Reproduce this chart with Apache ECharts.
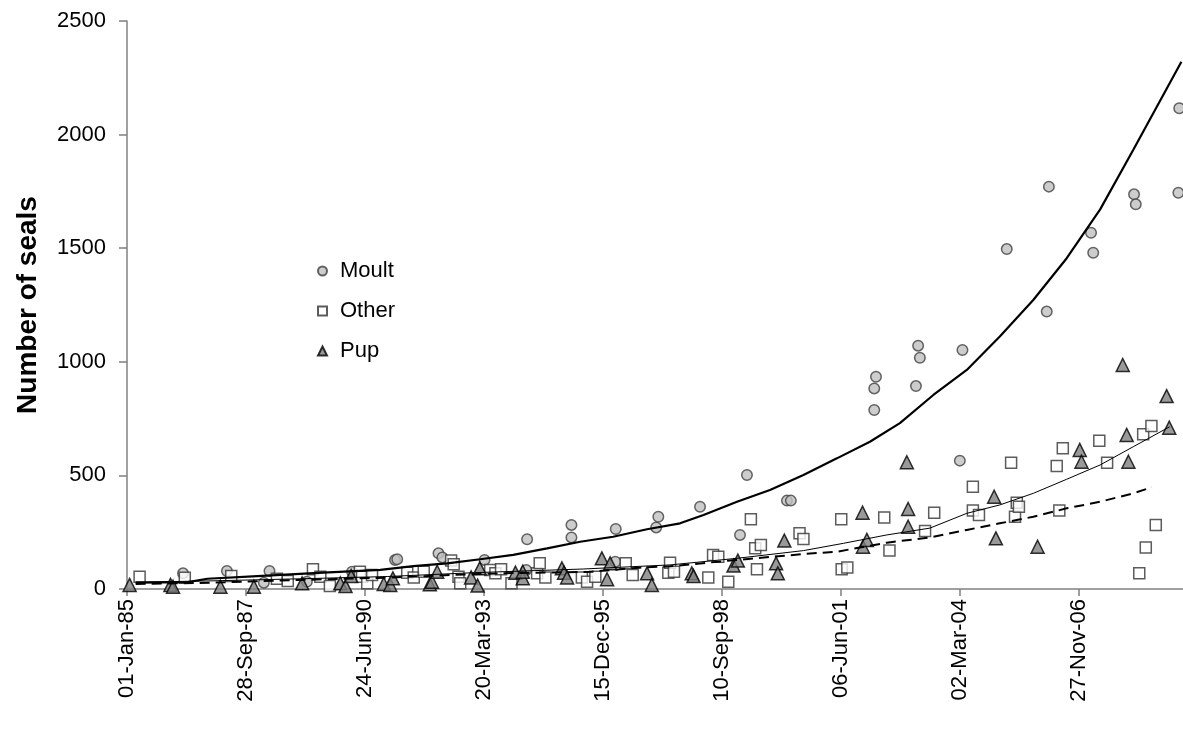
<!DOCTYPE html>
<html>
<head>
<meta charset="utf-8">
<title>Seal counts</title>
<script src="https://cdn.jsdelivr.net/npm/echarts@6/dist/echarts.min.js"></script>
<style>
  html, body { margin: 0; padding: 0; background: #ffffff; }
  #chart { width: 1183px; height: 729px; }
</style>
</head>
<body>
<div id="chart"></div>
<script>
// Survey dates are decimal years; counts are numbers of seals.
const moultDates = [1986.29, 1987.30, 1988.15, 1988.28, 1989.14, 1990.18, 1991.17, 1991.22, 1992.17, 1992.26,
  1993.23, 1994.19, 1994.21, 1995.23, 1995.23, 1996.24, 1996.25, 1997.18, 1997.23, 1998.19,
  1999.11, 1999.27, 2000.19, 2000.28, 2002.20, 2002.20, 2002.24, 2003.16, 2003.21, 2003.25,
  2004.17, 2004.23, 2005.25, 2006.17, 2006.22, 2007.19, 2007.24, 2008.18, 2008.22, 2009.20, 2009.22];
const moultCounts = [69, 79, 28, 79, 32, 76, 128, 131, 157, 139,
  128, 84, 219, 227, 282, 120, 264, 271, 318, 362,
  238, 502, 389, 389, 788, 883, 934, 893, 1071, 1018,
  565, 1052, 1496, 1221, 1771, 1568, 1480, 1737, 1693, 1744, 2116];

const otherDates = [1985.29, 1986.33, 1987.40, 1988.45, 1988.70, 1989.28, 1989.45, 1989.67, 1990.36, 1990.41,
  1990.53, 1990.64, 1991.45, 1991.60, 1991.83, 1992.46, 1992.52, 1992.63, 1992.67, 1993.36,
  1993.48, 1993.61, 1993.85, 1994.44, 1994.50, 1994.63, 1995.47, 1995.59, 1995.78, 1996.48,
  1996.64, 1997.46, 1997.50, 1997.59, 1998.38, 1998.49, 1998.61, 1998.84, 1999.36, 1999.46,
  1999.50, 1999.59, 2000.48, 2000.57, 2001.44, 2001.45, 2001.58, 2002.43, 2002.55, 2003.37,
  2003.58, 2004.47, 2004.47, 2004.61, 2005.35, 2005.44, 2005.48, 2005.53, 2006.40, 2006.46,
  2006.54, 2007.38, 2007.56, 2008.30, 2008.39, 2008.45, 2008.58, 2008.68];
const otherCounts = [54, 50, 57, 45, 35, 87, 54, 13, 76, 54,
  25, 62, 72, 51, 76, 125, 109, 54, 25, 84,
  69, 87, 25, 69, 113, 51, 51, 32, 54, 113,
  62, 72, 116, 76, 51, 150, 142, 32, 307, 179,
  87, 194, 245, 220, 307, 87, 95, 315, 169, 255,
  336, 450, 345, 326, 556, 318, 380, 362, 541, 345,
  619, 653, 556, 69, 681, 183, 717, 282];

const pupDates = [1985.06, 1986.00, 1986.06, 1987.15, 1987.92, 1989.03, 1989.91, 1990.03, 1990.16, 1990.91,
  1991.06, 1991.12, 1991.97, 1992.02, 1992.14, 1992.92, 1993.07, 1993.12, 1993.94, 1994.11,
  1994.11, 1995.01, 1995.06, 1995.13, 1995.93, 1996.05, 1996.12, 1996.97, 1997.08, 1998.00,
  1998.04, 1998.96, 1999.06, 1999.94, 1999.98, 2000.13, 2001.93, 2001.94, 2002.03, 2002.95,
  2002.98, 2002.98, 2004.96, 2005.00, 2005.96, 2006.93, 2006.97, 2007.92, 2008.01, 2008.05,
  2008.93, 2008.99];
const pupCounts = [18, 18, 10, 10, 10, 25, 25, 13, 57, 22,
  18, 47, 21, 32, 76, 51, 15, 91, 72, 47,
  76, 91, 72, 51, 135, 43, 113, 69, 18, 69,
  57, 103, 125, 113, 69, 213, 336, 186, 216, 558,
  352, 274, 406, 223, 186, 612, 560, 986, 678, 560,
  849, 710];

// Fitted trends
const moultTrendDates = [1985.20, 1986.40, 1986.85, 1988.00, 1989.52, 1990.83, 1991.59, 1992.37, 1993.13, 1993.89,
  1994.67, 1995.43, 1996.19, 1996.97, 1997.73, 1998.27, 1999.04, 1999.80, 2000.57, 2001.34,
  2002.10, 2002.79, 2003.56, 2004.33, 2005.09, 2005.86, 2006.63, 2007.40, 2008.16, 2009.27];
const moultTrendCounts = [28, 30, 45, 57, 72, 84, 101, 113, 131, 150,
  179, 208, 230, 263, 289, 326, 384, 436, 502, 575,
  648, 730, 854, 964, 1111, 1272, 1456, 1671, 1932, 2321];

const otherTrendDates = [1985.20, 1987.00, 1989.00, 1991.00, 1993.00, 1995.50, 1997.50, 1999.04, 2000.57, 2001.49,
  2002.49, 2003.48, 2004.33, 2005.09, 2005.86, 2006.63, 2007.40, 2008.16, 2009.00];
const otherTrendCounts = [30, 36, 45, 55, 72, 88, 106, 135, 169, 201,
  238, 268, 333, 370, 421, 483, 546, 626, 714];

const pupTrendDates = [1985.20, 1987.00, 1989.00, 1991.00, 1992.50, 1993.60, 1995.70, 1996.80, 1997.50, 1999.04,
  2000.57, 2001.34, 2002.49, 2003.48, 2004.33, 2005.09, 2005.86, 2006.63, 2007.40, 2008.16, 2008.59];
const pupTrendCounts = [22, 28, 40, 50, 62, 69, 76, 94, 100, 128,
  154, 164, 204, 227, 260, 289, 318, 355, 384, 421, 448];

// Date axis labels, one every 1000 days from 01-Jan-85
const xTickLabels = ['01-Jan-85', '28-Sep-87', '24-Jun-90', '20-Mar-93', '15-Dec-95',
  '10-Sep-98', '06-Jun-01', '02-Mar-04', '27-Nov-06'];
const yTicks = [0, 500, 1000, 1500, 2000, 2500];

// x is measured in days since 01-Jan-85
const DAYS_PER_YEAR = 365.25;
const toDays = y => (y - 1985) * DAYS_PER_YEAR;
const pairs = (xs, ys) => xs.map((x, i) => [toDays(x), ys[i]]);

const FONT = "'Liberation Sans', Arial, sans-serif";
const AXIS_GREY = '#808080';

const chart = echarts.init(document.getElementById('chart'), null, { renderer: 'canvas' });

chart.setOption({
  animation: false,
  backgroundColor: '#ffffff',
  grid: { left: 127, right: 0, top: 21, bottom: 140, outerBoundsMode: 'none' },
  legend: {
    orient: 'vertical',
    left: 312,
    top: 254,
    itemWidth: 9,
    itemHeight: 9,
    itemGap: 16,
    textStyle: { fontFamily: FONT, fontSize: 22, color: '#000', lineHeight: 24, padding: [0, 0, 0, 8] },
    data: [
      { name: 'Moult', icon: 'circle' },
      { name: 'Other', icon: 'rect' },
      { name: 'Pup', icon: 'triangle' }
    ]
  },
  xAxis: {
    type: 'value',
    min: 0,
    max: 8878,
    interval: 1000,
    axisLine: { lineStyle: { color: AXIS_GREY, width: 1.5 } },
    axisTick: { show: true, length: 7, lineStyle: { color: AXIS_GREY, width: 1.5 } },
    splitLine: { show: false },
    axisLabel: {
      rotate: 90,
      margin: 10,
      fontFamily: FONT,
      fontSize: 22,
      color: '#000',
      showMaxLabel: false,
      formatter: v => (v % 1000 === 0 ? (xTickLabels[v / 1000] || '') : '')
    }
  },
  yAxis: {
    type: 'value',
    min: yTicks[0],
    max: yTicks[yTicks.length - 1],
    interval: yTicks[1] - yTicks[0],
    name: 'Number of seals',
    nameLocation: 'middle',
    nameGap: 85,
    nameTextStyle: { fontFamily: FONT, fontSize: 28, fontWeight: 'bold', color: '#000' },
    axisLine: { show: true, lineStyle: { color: AXIS_GREY, width: 1.5 } },
    axisTick: { show: true, length: 8, lineStyle: { color: AXIS_GREY, width: 1.5 } },
    splitLine: { show: false },
    axisLabel: { margin: 21, fontFamily: FONT, fontSize: 22, color: '#000', formatter: v => String(v) }
  },
  series: [
    {
      name: 'Moult', type: 'scatter', symbol: 'circle', symbolSize: 10.5,
      itemStyle: { color: '#c0c0c0', borderColor: '#404040', borderWidth: 1.5 },
      data: pairs(moultDates, moultCounts), z: 3
    },
    {
      name: 'Other', type: 'scatter', symbol: 'rect', symbolSize: 11,
      itemStyle: { color: '#ffffff', borderColor: '#333333', borderWidth: 1.5 },
      data: pairs(otherDates, otherCounts), z: 3
    },
    {
      name: 'Pup', type: 'scatter', symbol: 'triangle', symbolSize: 13,
      itemStyle: { color: '#808080', borderColor: '#000000', borderWidth: 1.5 },
      data: pairs(pupDates, pupCounts), z: 3
    },
    {
      name: 'Moult trend', type: 'line', showSymbol: false, symbol: 'none', silent: true,
      lineStyle: { color: '#000', width: 2.2 },
      data: pairs(moultTrendDates, moultTrendCounts), z: 4
    },
    {
      name: 'Other trend', type: 'line', showSymbol: false, symbol: 'none', silent: true,
      lineStyle: { color: '#000', width: 1 },
      data: pairs(otherTrendDates, otherTrendCounts), z: 4
    },
    {
      name: 'Pup trend', type: 'line', showSymbol: false, symbol: 'none', silent: true,
      lineStyle: { color: '#000', width: 2, type: [10, 6] },
      data: pairs(pupTrendDates, pupTrendCounts), z: 4
    }
  ]
});
</script>
</body>
</html>
